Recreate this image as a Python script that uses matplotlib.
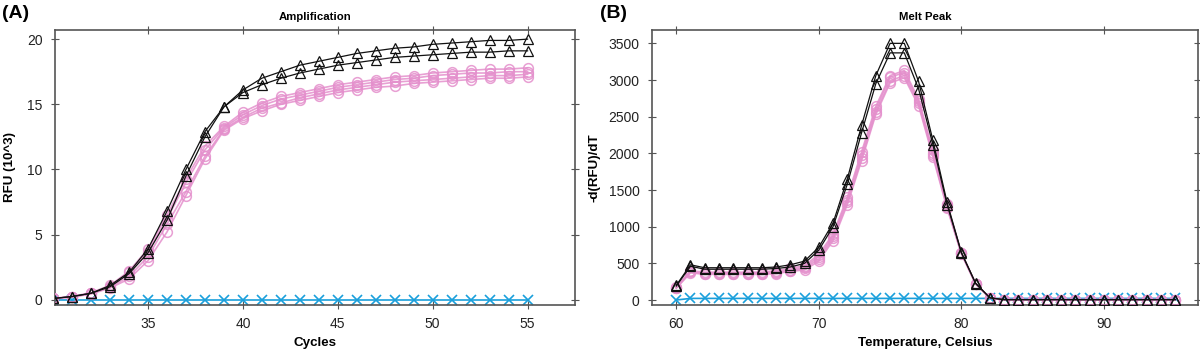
import numpy as np
import matplotlib
matplotlib.use("Agg")
import matplotlib.pyplot as plt

plt.rcParams['font.family'] = ['Liberation Sans', 'DejaVu Sans']

# Amplification data (RFU x 10^3), cycles 30..55
cycles = list(range(30, 56))
amp_tri = [
    [0.1, 0.25, 0.5, 1.1, 2.1, 3.9, 6.8, 10.0, 12.9, 14.8, 16.1, 17.0, 17.5, 18.0, 18.3, 18.6, 18.9, 19.1, 19.3, 19.4, 19.6, 19.7, 19.8, 19.9, 19.9, 20.0],
    [0.1, 0.25, 0.5, 1.0, 2.0, 3.6, 6.1, 9.5, 12.5, 14.8, 15.9, 16.5, 17.0, 17.4, 17.7, 18.0, 18.2, 18.4, 18.6, 18.7, 18.8, 18.9, 19.0, 19.0, 19.1, 19.1],
]
amp_circ = [
    [0.1, 0.25, 0.55, 1.1, 2.2, 3.9, 6.5, 9.3, 11.8, 13.3, 14.4, 15.1, 15.6, 15.9, 16.2, 16.5, 16.7, 16.9, 17.1, 17.2, 17.4, 17.5, 17.6, 17.7, 17.7, 17.8],
    [0.1, 0.25, 0.5, 1.0, 2.1, 3.7, 6.2, 9.0, 11.5, 13.2, 14.2, 14.9, 15.4, 15.7, 16.0, 16.3, 16.5, 16.7, 16.9, 17.0, 17.2, 17.3, 17.4, 17.4, 17.5, 17.5],
    [0.1, 0.2, 0.5, 0.95, 1.8, 3.3, 5.8, 8.3, 11.0, 13.1, 14.0, 14.7, 15.1, 15.5, 15.8, 16.1, 16.3, 16.5, 16.7, 16.8, 16.9, 17.0, 17.1, 17.2, 17.2, 17.3],
    [0.1, 0.2, 0.45, 0.9, 1.6, 3.0, 5.2, 8.0, 10.8, 13.0, 13.9, 14.5, 15.0, 15.3, 15.6, 15.9, 16.1, 16.3, 16.4, 16.6, 16.7, 16.8, 16.9, 17.0, 17.0, 17.1],
]
amp_ntc = [0.0] * 26

# Melt peak data, -d(RFU)/dT, temperatures 60..95
temps = list(range(60, 96))
tail = [5] * 13
melt_tri = [
    [200, 480, 440, 440, 440, 440, 440, 450, 480, 530, 720, 1050, 1650, 2380, 3060, 3500, 3500, 2980, 2180, 1330, 650, 230, 30] + tail,
    [190, 460, 420, 420, 420, 420, 420, 430, 450, 500, 680, 1000, 1580, 2280, 2950, 3370, 3370, 2880, 2120, 1300, 645, 225, 30] + tail,
]
melt_circ = [
    [175, 400, 380, 380, 380, 380, 380, 400, 430, 470, 620, 900, 1400, 2020, 2640, 3060, 3130, 2740, 2040, 1310, 645, 225, 30] + tail,
    [170, 390, 370, 370, 370, 370, 370, 385, 410, 450, 590, 870, 1370, 1980, 2600, 3040, 3100, 2710, 2010, 1290, 640, 222, 28] + tail,
    [165, 380, 360, 360, 360, 360, 360, 370, 400, 430, 560, 840, 1330, 1930, 2560, 2990, 3060, 2680, 1980, 1270, 635, 220, 26] + tail,
    [160, 370, 350, 350, 350, 350, 350, 360, 390, 410, 530, 810, 1300, 1900, 2530, 2960, 3030, 2650, 1955, 1250, 630, 218, 25] + tail,
]
melt_ntc = [0] + [22] * 35

BLACK = '#111111'
PINK = '#e48fcc'
BLUE = '#1a9fdb'
SPINE = '#555555'

fig = plt.figure(figsize=(12, 3.51), dpi=100)
axA = fig.add_axes([55 / 1200, 1 - 305 / 351, 520 / 1200, 275 / 351])
axB = fig.add_axes([652 / 1200, 1 - 305 / 351, 546 / 1200, 275 / 351])


def draw(ax, x, tris, circs, ntc):
    ax.plot(x, ntc, color=BLUE, lw=1.2, marker='x', ms=7, mew=1.2, zorder=2)
    for c in circs:
        ax.plot(x, c, color=PINK, lw=1.2, marker='o', ms=7, mfc='none', mec=PINK, mew=1.1, alpha=0.85, zorder=3)
    for t in tris:
        ax.plot(x, t, color=BLACK, lw=0.9, marker='^', ms=6.5, mfc='none', mec=BLACK, mew=0.9, zorder=4)


def style(ax):
    for s in ax.spines.values():
        s.set_color(SPINE)
        s.set_linewidth(1.2)
    ax.tick_params(axis='both', which='major', labelsize=10, colors='#222222')
    ax.tick_params(axis='x', bottom=True, top=True, direction='inout', length=6, color=SPINE, pad=6)
    ax.tick_params(axis='y', left=True, right=True, direction='inout', length=6, color=SPINE, pad=6)
    ax.yaxis.set_ticks_position('both')
    ax.xaxis.set_ticks_position('both')


draw(axA, cycles, amp_tri, amp_circ, amp_ntc)
axA.set_xlim(30.1, 57.5)
axA.set_ylim(-0.4, 20.7)
axA.set_xticks([35, 40, 45, 50, 55])
axA.set_yticks([0, 5, 10, 15, 20])
style(axA)
axA.set_xlabel('Cycles', fontsize=9.6, fontweight='bold', labelpad=4)
axA.set_ylabel('RFU (10^3)', fontsize=9.6, fontweight='bold', labelpad=8)
axA.set_title('Amplification', fontsize=8.2, fontweight='bold', pad=7)

draw(axB, temps, melt_tri, melt_circ, melt_ntc)
axB.set_xlim(58.3, 96.6)
axB.set_ylim(-68, 3682)
axB.set_xticks([60, 70, 80, 90])
axB.set_yticks(np.arange(0, 3501, 500))
style(axB)
axB.set_xlabel('Temperature, Celsius', fontsize=9.6, fontweight='bold', labelpad=4)
axB.set_ylabel('-d(RFU)/dT', fontsize=9.6, fontweight='bold', labelpad=6)
axB.set_title('Melt Peak', fontsize=8.2, fontweight='bold', pad=7)

fig.text(0.002, 0.985, '(A)', fontsize=14, fontweight='bold', va='top', ha='left')
fig.text(600 / 1200, 0.985, '(B)', fontsize=14, fontweight='bold', va='top', ha='left')

fig.savefig('out.png', dpi=100)
